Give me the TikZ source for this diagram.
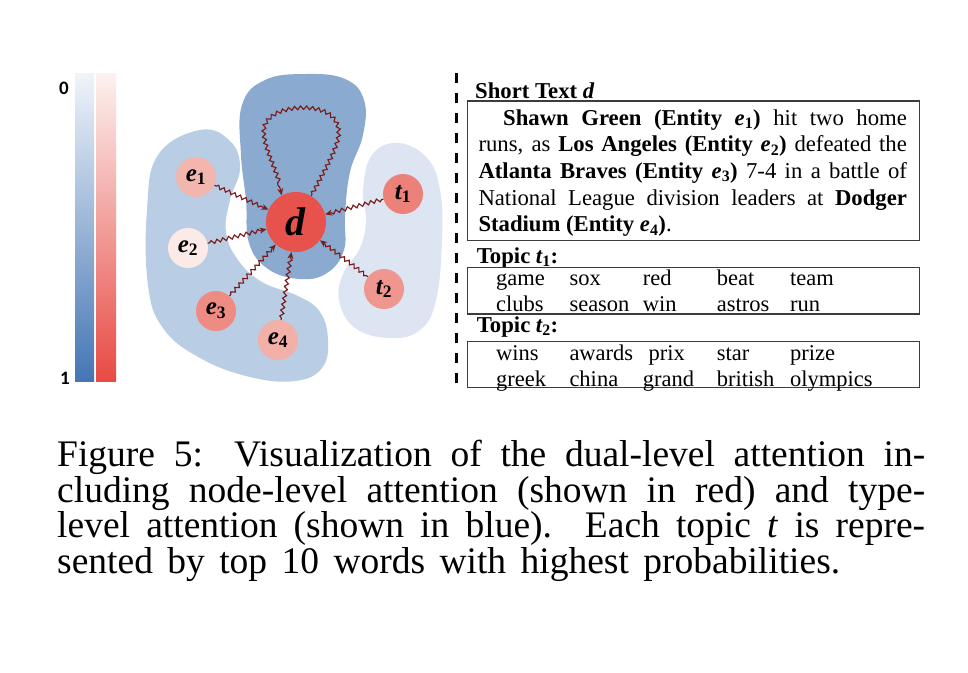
\documentclass[tikz,border=0pt]{standalone}
\usepackage{fontspec}
\setmainfont{Liberation Serif}
\newfontfamily\barfont{Carlito}
\usetikzlibrary{decorations.pathmorphing,arrows.meta}
\definecolor{blobC}{RGB}{139,170,208}
\definecolor{blobL}{RGB}{185,205,229}
\definecolor{blobR}{RGB}{220,229,241}
\definecolor{barBtop}{RGB}{240,244,250}
\definecolor{barBbot}{RGB}{68,118,180}
\definecolor{barRtop}{RGB}{252,242,240}
\definecolor{barRbot}{RGB}{232,74,68}
\definecolor{cd}{RGB}{232,82,76}
\definecolor{ceA}{RGB}{243,182,174}
\definecolor{ceB}{RGB}{251,234,230}
\definecolor{ceC}{RGB}{238,139,131}
\definecolor{ceD}{RGB}{243,176,168}
\definecolor{ctA}{RGB}{236,129,122}
\definecolor{ctB}{RGB}{239,150,143}
\definecolor{arr}{RGB}{122,28,28}
\definecolor{boxline}{RGB}{60,60,60}
\newcommand{\mv}[2]{{\bfseries\itshape #1}\textsubscript{\bfseries #2}}
\newcommand{\ent}[1]{\mv{e}{#1}}
\begin{document}
\begin{tikzpicture}[x=1pt,y=-1pt,
  nd/.style={circle, inner sep=0pt, minimum size=40pt, font=\fontsize{25}{28}\selectfont},
  wav/.style={draw=arr, line width=1.15pt, decorate,
    decoration={snake, amplitude=1.8pt, segment length=6pt, pre length=2pt, post length=6pt},
    -{Stealth[length=7pt,width=6pt]}},
  barlab/.style={inner sep=0pt, font=\barfont\bfseries\fontsize{19}{22}\selectfont},
  txt/.style={inner sep=0pt, anchor=base west, font=\fontsize{22.7}{26.7}\selectfont},
  wrd/.style={inner sep=0pt, anchor=base west, font=\fontsize{22.5}{26}\selectfont},
  captext/.style={inner sep=0pt, anchor=base west, font=\fontsize{37.5}{35.5}\selectfont},
  tbox/.style={draw=boxline, line width=1.3pt}
]
\useasboundingbox (0,0) rectangle (968,672);
\fill[white] (0,0) rectangle (968,672);

% colour bars
\shade[top color=barBtop, bottom color=barBbot] (75,73) rectangle (94,381);
\shade[top color=barRtop, bottom color=barRbot] (96,73) rectangle (116,381);
\node[barlab] (l0) at (64,88) {0};
\node[barlab] (l1) at (65,378) {1};

% blobs
\fill[blobL] plot[smooth cycle, tension=0.7] coordinates {
  (200,130) (230,141) (240,168) (230,200) (226,232) (238,260) (262,282)
  (298,296) (320,312) (328,340) (322,368) (295,381) (250,377) (200,358)
  (163,328) (148,285) (147,210) (158,155)};
\fill[blobR] plot[smooth cycle, tension=0.7] coordinates {
  (398,143) (427,158) (440,190) (442,240) (436,300) (420,330) (390,338)
  (355,328) (339,300) (344,272) (360,248) (366,220) (363,190) (372,155)};
\fill[blobC] plot[smooth cycle, tension=0.7] coordinates {
  (306,74) (345,79) (364,100) (363,135) (350,172) (345,215) (344,250)
  (327,273) (300,279) (268,269) (249,243) (246,200) (241,155) (242,105) (265,80)};

% nodes
\node[nd, fill=cd, minimum size=60pt, font=\fontsize{40}{44}\selectfont] (d) at (296,222) {\textbf{\textit{d}}};
\node[nd, fill=ceA] (e1) at (196,177) {\mv{e}{1}};
\node[nd, fill=ceB] (e2) at (188,248) {\mv{e}{2}};
\node[nd, fill=ceC] (e3) at (216,311) {\mv{e}{3}};
\node[nd, fill=ceD] (e4) at (278,340) {\mv{e}{4}};
\node[nd, fill=ctA] (t1) at (403,194) {\mv{t}{1}};
\node[nd, fill=ctB] (t2) at (384,289) {\mv{t}{2}};

% wavy arrows
\draw[wav] (e1) -- (d);
\draw[wav] (e2) -- (d);
\draw[wav] (e3) -- (d);
\draw[wav] (e4) -- (d);
\draw[wav] (t1) -- (d);
\draw[wav] (t2) -- (d);
\draw[wav] (d.60) .. controls (325,170) and (339,145) .. (338,133)
  .. controls (337,115) and (320,109) .. (303,109)
  .. controls (285,109) and (264,115) .. (263,132)
  .. controls (263,150) and (276,170) .. (d.118);

% dashed separator
\coordinate (sepA) at (456,73);
\coordinate (sepB) at (456,383);
\draw[line width=3pt, dash pattern=on 10pt off 10pt] (sepA) -- (sepB);

% short text
\node[txt, font=\bfseries\fontsize{22.7}{26.7}\selectfont] (sth) at (475,98.3) {Short Text \textit{d}};
\draw[tbox] (467.3,101) rectangle (919.3,240.7);
\node[txt] (s1) at (503,125) {\makebox[403.7pt][s]{\textbf{Shawn Green (Entity \ent1)} hit two home}};
\node[txt] (s2) at (478.3,151.7) {\makebox[428.4pt][s]{runs, as \textbf{Los Angeles (Entity \ent2)} defeated the}};
\node[txt] (s3) at (478.3,178.3) {\makebox[428.4pt][s]{\textbf{Atlanta Braves (Entity \ent3)} 7-4 in a battle of}};
\node[txt] (s4) at (478.3,205) {\makebox[428.4pt][s]{National League division leaders at \textbf{Dodger}}};
\node[txt] (s5) at (478.3,231.7) {\textbf{Stadium (Entity \ent4)}.};

% topic 1
\node[txt, font=\bfseries\fontsize{22.7}{26.7}\selectfont] (tp1) at (476.7,263.3) {Topic \mv{t}{1}:};
\draw[tbox] (467.3,267.3) rectangle (919.3,314);
\node[wrd] (a1) at (496,285) {game};
\node[wrd] (a2) at (569.3,285) {sox};
\node[wrd] (a3) at (642.7,285) {red};
\node[wrd] (a4) at (716.7,285) {beat};
\node[wrd] (a5) at (790,285) {team};
\node[wrd] (b1) at (496,311.7) {clubs};
\node[wrd] (b2) at (569.3,311.7) {season};
\node[wrd] (b3) at (642.7,311.7) {win};
\node[wrd] (b4) at (716.7,311.7) {astros};
\node[wrd] (b5) at (790,311.7) {run};

% topic 2
\node[txt, font=\bfseries\fontsize{22.7}{26.7}\selectfont] (tp2) at (476.7,332) {Topic \mv{t}{2}:};
\draw[tbox] (467.3,341.7) rectangle (919.3,387.3);
\node[wrd] (c1) at (496,360) {wins};
\node[wrd] (c2) at (569.3,360) {awards};
\node[wrd] (c3) at (648.3,360) {prix};
\node[wrd] (c4) at (716.7,360) {star};
\node[wrd] (c5) at (790,360) {prize};
\node[wrd] (g1) at (496,386.7) {greek};
\node[wrd] (g2) at (569.3,386.7) {china};
\node[wrd] (g3) at (642.7,386.7) {grand};
\node[wrd] (g4) at (716.7,386.7) {british};
\node[wrd] (g5) at (790,386.7) {olympics};

% caption
\node[captext] (cap1) at (57,466.7) {\makebox[868pt][s]{Figure 5: Visualization of the dual-level attention in-}};
\node[captext] (cap2) at (57,502.3) {\makebox[868pt][s]{cluding node-level attention (shown in red) and type-}};
\node[captext] (cap3) at (57,537.6) {\makebox[868pt][s]{level attention (shown in blue). Each topic \textit{t} is repre-}};
\node[captext] (cap4) at (57,573.3) {\makebox[783pt][s]{sented by top 10 words with highest probabilities.}};
\end{tikzpicture}
\end{document}
